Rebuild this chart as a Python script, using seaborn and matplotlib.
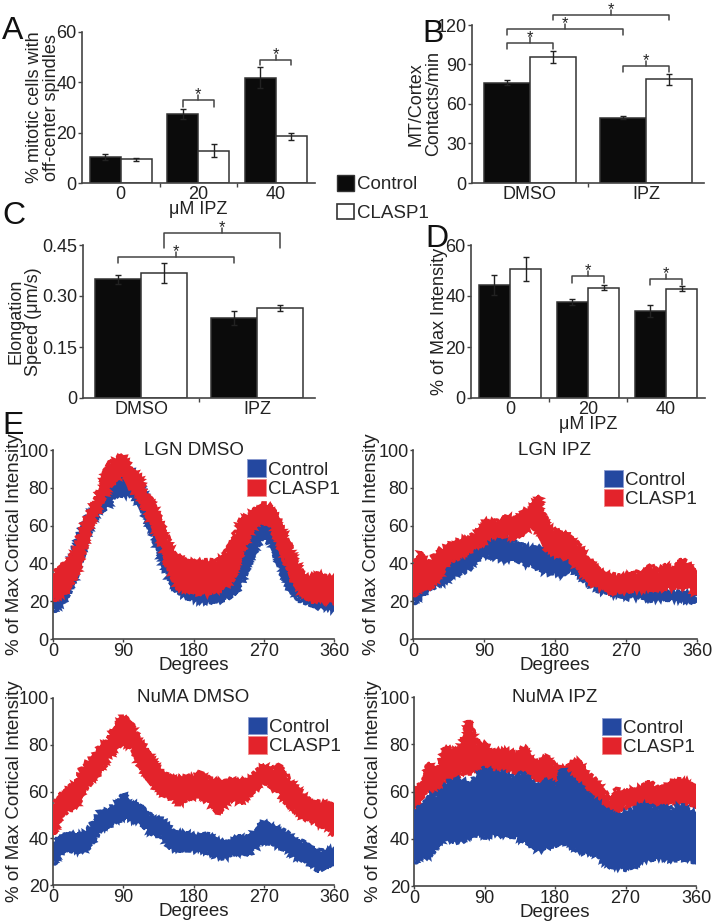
import matplotlib
matplotlib.use("Agg")
import matplotlib.pyplot as plt
from matplotlib.patches import Patch
import pandas as pd
import seaborn as sns

# ---------------- data: bar panels ----------------
groups = ["Control", "CLASP1"]

a_cats = ["0", "20", "40"]
a_ctrl = [10.5, 27.4, 41.8]
a_ctrl_err = [1.2, 1.9, 4.2]
a_clasp = [9.5, 12.9, 18.5]
a_clasp_err = [0.6, 2.5, 1.3]

b_cats = ["DMSO", "IPZ"]
b_ctrl = [76.1, 49.7]
b_ctrl_err = [2.0, 1.0]
b_clasp = [95.9, 78.7]
b_clasp_err = [4.5, 4.0]

c_cats = ["DMSO", "IPZ"]
c_ctrl = [0.349, 0.235]
c_ctrl_err = [0.014, 0.020]
c_clasp = [0.367, 0.265]
c_clasp_err = [0.030, 0.009]

d_cats = ["0", "20", "40"]
d_ctrl = [44.3, 37.6, 34.1]
d_ctrl_err = [4.0, 1.1, 2.2]
d_clasp = [50.6, 43.3, 42.9]
d_clasp_err = [4.7, 1.1, 0.9]

# significance brackets: (hue, cat) start, (hue, cat) end, bar height, foot height
a_sig = [((0, 1), (1, 1), 33.0, 30.0), ((0, 2), (1, 2), 49.0, 46.8)]
b_sig = [((0, 0), (1, 0), 106.6, 102.0), ((0, 0), (0, 1), 116.8, 112.4),
         ((1, 0), (1, 1), 127.7, 123.9), ((0, 1), (1, 1), 88.8, 84.5)]
c_sig = [((1, 0), (1, 1), 0.485, 0.441), ((0, 0), (0, 1), 0.415, 0.397)]
d_sig = [((0, 1), (1, 1), 47.8, 45.2), ((0, 2), (1, 2), 46.8, 44.4)]

# ---------------- data: cortical intensity profiles (every 10 degrees) ----------------
degrees = list(range(0, 361, 10))

lgn_dmso_ctrl_hi = [29, 33, 39, 51, 62, 69, 74, 82, 86, 89, 90, 83, 74, 63, 53, 41, 32, 28, 26,
                    25, 24, 24, 26, 30, 41, 51, 62, 65, 63, 53, 39, 30, 26, 23, 22, 21, 20]
lgn_dmso_ctrl_lo = [15, 18, 23, 35, 48, 62, 67, 70, 76, 76, 77, 72, 63, 53, 40, 30, 25, 22, 21,
                    20, 20, 20, 21, 23, 28, 39, 48, 55, 51, 39, 28, 23, 20, 18, 17, 16, 15]
lgn_dmso_clasp_hi = [34, 39, 41, 48, 62, 70, 79, 92, 95, 97, 90, 86, 77, 70, 60, 49, 44, 41, 41,
                     41, 41, 41, 44, 52, 62, 66, 69, 71, 70, 62, 53, 42, 35, 33, 34, 33, 32]
lgn_dmso_clasp_lo = [21, 23, 26, 34, 48, 62, 70, 79, 84, 89, 79, 76, 67, 58, 48, 35, 27, 26, 25,
                     24, 24, 26, 27, 32, 44, 54, 61, 63, 60, 49, 39, 28, 23, 20, 20, 20, 19]

lgn_ipz_ctrl_hi = [27, 30, 33, 35, 39, 40, 42, 46, 51, 56, 55, 53, 52, 51, 49, 48, 48, 46, 44,
                   44, 46, 42, 37, 34, 32, 30, 28, 27, 27, 26, 26, 26, 25, 25, 24, 24, 22]
lgn_ipz_ctrl_lo = [19, 23, 26, 28, 30, 34, 35, 37, 42, 44, 44, 42, 42, 42, 40, 39, 37, 35, 35,
                   34, 37, 34, 30, 27, 25, 24, 23, 22, 22, 22, 21, 21, 21, 21, 21, 20, 20]
lgn_ipz_clasp_hi = [39, 46, 37, 46, 48, 51, 52, 54, 56, 62, 62, 62, 65, 63, 67, 70, 75, 60, 57,
                    56, 54, 49, 44, 39, 35, 34, 33, 33, 35, 34, 39, 35, 39, 37, 42, 39, 34]
lgn_ipz_clasp_lo = [23, 28, 26, 30, 39, 42, 44, 46, 49, 51, 55, 54, 55, 53, 56, 60, 56, 47, 45,
                    44, 42, 37, 32, 28, 27, 25, 25, 25, 26, 26, 27, 26, 27, 27, 28, 27, 23]

numa_dmso_ctrl_hi = [38, 41, 42, 41, 42, 45, 51, 52, 54, 59, 55, 54, 51, 48, 48, 44, 42, 42, 41,
                     42, 41, 39, 38, 39, 41, 39, 44, 47, 45, 44, 42, 39, 38, 36, 34, 35, 35]
numa_dmso_ctrl_lo = [29, 34, 35, 34, 35, 38, 44, 45, 47, 49, 48, 47, 44, 41, 41, 36, 35, 35, 35,
                     35, 34, 32, 32, 33, 34, 33, 36, 39, 38, 36, 35, 32, 31, 29, 26, 28, 28]
numa_dmso_clasp_hi = [54, 59, 61, 64, 71, 74, 79, 82, 88, 92, 89, 82, 78, 72, 69, 66, 65, 66, 66,
                      68, 65, 64, 65, 65, 64, 65, 68, 71, 69, 71, 66, 62, 59, 56, 55, 55, 54]
numa_dmso_clasp_lo = [42, 49, 52, 54, 61, 65, 68, 74, 78, 81, 79, 72, 66, 62, 59, 58, 55, 56, 58,
                      58, 55, 51, 54, 57, 55, 58, 61, 64, 62, 59, 55, 52, 49, 48, 46, 45, 42]

numa_ipz_ctrl_hi = [52, 54, 58, 58, 62, 65, 65, 63, 66, 70, 68, 68, 66, 66, 68, 63, 62, 65, 61,
                    69, 65, 63, 59, 56, 54, 51, 49, 51, 52, 54, 54, 52, 54, 52, 54, 52, 51]
numa_ipz_ctrl_lo = [30, 33, 32, 37, 41, 39, 39, 41, 42, 41, 42, 42, 41, 41, 39, 37, 35, 37, 37,
                    39, 37, 35, 34, 34, 31, 28, 28, 27, 28, 31, 31, 32, 32, 31, 32, 31, 30]
numa_ipz_clasp_hi = [62, 63, 72, 68, 79, 77, 79, 90, 80, 80, 77, 77, 77, 76, 79, 73, 72, 75, 70,
                     70, 72, 73, 68, 65, 61, 56, 61, 59, 61, 62, 64, 61, 62, 64, 65, 64, 62]
numa_ipz_clasp_lo = [52, 58, 61, 59, 65, 65, 68, 68, 69, 68, 68, 69, 69, 68, 69, 66, 65, 63, 62,
                     62, 62, 61, 59, 56, 52, 49, 51, 54, 54, 54, 55, 54, 55, 56, 55, 55, 54]

BLUE = "#2448a0"
RED = "#e3232b"
INK = "#222222"
AXC = "#444444"

sns.set_theme(style="ticks")
plt.rcParams["font.family"] = ["Liberation Sans", "DejaVu Sans"]
plt.rcParams["axes.edgecolor"] = AXC
plt.rcParams["axes.linewidth"] = 1.2
plt.rcParams["xtick.color"] = AXC
plt.rcParams["ytick.color"] = AXC
plt.rcParams["xtick.labelcolor"] = INK
plt.rcParams["ytick.labelcolor"] = INK
plt.rcParams["axes.labelcolor"] = INK

W, H = 712, 921
fig = plt.figure(figsize=(W / 100, H / 100), dpi=100)


def rect(l, t, r, b):
    return [l / W, 1 - b / H, (r - l) / W, (b - t) / H]


def bar_panel(ax, cats, ctrl, ctrl_err, clasp, clasp_err, sig, ylim, yticks, yticklabels):
    df = pd.DataFrame({
        "cat": cats * 2,
        "group": ["Control"] * len(cats) + ["CLASP1"] * len(cats),
        "value": ctrl + clasp,
    })
    sns.barplot(data=df, x="cat", y="value", hue="group", order=cats, hue_order=groups,
                palette={"Control": "#0b0b0b", "CLASP1": "white"}, edgecolor="#333333",
                linewidth=1.1, errorbar=None, legend=False, ax=ax)
    vals = [ctrl, clasp]
    errs = [ctrl_err, clasp_err]
    bar_conts = list(ax.containers)
    centers = []
    for h, cont in enumerate(bar_conts):
        xs = [p.get_x() + p.get_width() / 2 for p in cont.patches]
        centers.append(xs)
        ax.errorbar(xs, vals[h], yerr=errs[h], fmt="none", ecolor=INK, elinewidth=1.0,
                    capsize=2.2, capthick=1.0, zorder=3)
    stub = 0.033 * (ylim[1] - ylim[0])
    for (h1, c1), (h2, c2), y, yf in sig:
        x1, x2 = centers[h1][c1], centers[h2][c2]
        xm = (x1 + x2) / 2
        ax.plot([x1, x1, x2, x2], [yf, y, y, yf], color=AXC, lw=1.1, clip_on=False)
        ax.plot([xm, xm], [y, y + stub], color=AXC, lw=1.1, clip_on=False)
        ax.annotate("*", xy=(xm, y + stub), xytext=(0, 0), textcoords="offset points",
                    ha="center", va="center", fontsize=12, color=INK, annotation_clip=False)
    ax.set_ylim(*ylim)
    ax.set_xlim(-0.5, len(cats) - 0.5)
    ax.set_yticks(yticks)
    ax.set_yticklabels(yticklabels)
    ax.set_xticks(range(len(cats)))
    ax.set_xticks([i + 0.5 for i in range(len(cats) - 1)], minor=True)
    ax.tick_params(axis="x", which="major", length=0, pad=2, labelsize=13)
    ax.tick_params(axis="x", which="minor", length=3, width=1)
    ax.tick_params(axis="y", length=3, width=1, pad=1, labelsize=13)
    ax.set_xlabel("")
    sns.despine(ax=ax)


axA = fig.add_axes(rect(82, 32, 314.5, 183))
bar_panel(axA, a_cats, a_ctrl, a_ctrl_err, a_clasp, a_clasp_err, a_sig,
          (0, 60), [0, 20, 40, 60], ["0", "20", "40", "60"])
axA.set_ylabel("% mitotic cells with\noff-center spindles", fontsize=13, linespacing=1.0)
axA.yaxis.set_label_coords(-0.094, 0.5)
axA.set_xlabel("μM IPZ", fontsize=13, labelpad=-1)

axB = fig.add_axes(rect(472, 25, 704, 183))
bar_panel(axB, b_cats, b_ctrl, b_ctrl_err, b_clasp, b_clasp_err, b_sig,
          (0, 120), [0, 30, 60, 90, 120], ["0", "30", "60", "90", "120"])
axB.set_ylabel("MT/Cortex\nContacts/min", fontsize=13, linespacing=1.0)
axB.yaxis.set_label_coords(-0.13, 0.5)

axC = fig.add_axes(rect(83, 245, 315, 398))
bar_panel(axC, c_cats, c_ctrl, c_ctrl_err, c_clasp, c_clasp_err, c_sig,
          (0, 0.45), [0, 0.15, 0.30, 0.45], ["0", "0.15", "0.30", "0.45"])
axC.set_ylabel("Elongation\nSpeed (μm/s)", fontsize=13, linespacing=1.0)
axC.yaxis.set_label_coords(-0.177, 0.5)

axD = fig.add_axes(rect(471, 245, 705, 398))
bar_panel(axD, d_cats, d_ctrl, d_ctrl_err, d_clasp, d_clasp_err, d_sig,
          (0, 60), [0, 20, 40, 60], ["0", "20", "40", "60"])
axD.set_ylabel("% of Max Intensity", fontsize=13)
axD.yaxis.set_label_coords(-0.1, 0.5)
axD.set_xlabel("μM IPZ", fontsize=13, labelpad=-1)

# shared legend for the bar panels
fig.legend(handles=[Patch(facecolor="#0b0b0b", edgecolor="#333333"),
                    Patch(facecolor="white", edgecolor="#333333", linewidth=1.2)],
           labels=groups, loc="upper left", bbox_to_anchor=(337 / W, 1 - 175 / H),
           frameon=False, fontsize=13.5, handlelength=0.9, handleheight=0.9,
           handletextpad=0.15, labelspacing=0.55, borderpad=0, borderaxespad=0)


# ---------------- E: intensity profiles ----------------
def profile_panel(box, title, ctrl_lo, ctrl_hi, clasp_lo, clasp_hi, ylim, yticks,
                  blue_on_top, leg_xy, label_x):
    ax = fig.add_axes(rect(*box))
    series = [("Control", BLUE, ctrl_lo, ctrl_hi), ("CLASP1", RED, clasp_lo, clasp_hi)]
    for name, color, lo, hi in series:
        z = 3 if (name == "Control") == blue_on_top else 2
        mid = [(a + b) / 2 for a, b in zip(lo, hi)]
        sns.lineplot(x=degrees, y=mid, color=color, lw=1.0, ax=ax, zorder=z)
        ax.fill_between(degrees, lo, hi, facecolor=color, edgecolor="none", zorder=z)
        # ragged outline so the band reads like the dense error bars of the original
        for edge in (lo, hi):
            ln, = ax.plot(degrees, edge, color=color, lw=2.2, zorder=z,
                          solid_joinstyle="miter")
            ln.set_sketch_params(scale=2.5, length=2.5, randomness=3.0)
    ax.set_xlim(0, 360)
    ax.set_ylim(*ylim)
    ax.set_xticks([0, 90, 180, 270, 360])
    ax.set_yticks(yticks)
    ax.tick_params(axis="both", length=2, width=1, pad=1, labelsize=13)
    ax.set_xlabel("Degrees", fontsize=13.5, labelpad=-2)
    ax.set_ylabel("% of Max Cortical Intensity", fontsize=13.5)
    ax.yaxis.set_label_coords(label_x, 0.5)
    ax.text(0.5, 1.0, title, transform=ax.transAxes, ha="center", va="center",
            fontsize=13.5, color=INK)
    ax.legend(handles=[Patch(facecolor=BLUE, edgecolor="#8a9ad0", linewidth=0.6),
                       Patch(facecolor=RED, edgecolor="#f08a8a", linewidth=0.6)],
              labels=groups, loc="upper left", bbox_to_anchor=leg_xy, frameon=False,
              fontsize=13.5, handlelength=1.0, handleheight=1.05, handletextpad=0.1,
              labelspacing=0.0, borderpad=0, borderaxespad=0)
    sns.despine(ax=ax)
    return ax


profile_panel((53, 450, 334, 639), "LGN DMSO", lgn_dmso_ctrl_lo, lgn_dmso_ctrl_hi,
              lgn_dmso_clasp_lo, lgn_dmso_clasp_hi, (0, 100), [0, 20, 40, 60, 80, 100],
              False, (0.69, 0.95), -0.108)
profile_panel((413, 450, 697, 639), "LGN IPZ", lgn_ipz_ctrl_lo, lgn_ipz_ctrl_hi,
              lgn_ipz_clasp_lo, lgn_ipz_clasp_hi, (0, 100), [0, 20, 40, 60, 80, 100],
              False, (0.673, 0.895), -0.115)
profile_panel((53, 698, 334, 885), "NuMA DMSO", numa_dmso_ctrl_lo, numa_dmso_ctrl_hi,
              numa_dmso_clasp_lo, numa_dmso_clasp_hi, (20, 100), [20, 40, 60, 80, 100],
              False, (0.694, 0.898), -0.108)
profile_panel((414, 697, 696, 886), "NuMA IPZ", numa_ipz_ctrl_lo, numa_ipz_ctrl_hi,
              numa_ipz_clasp_lo, numa_ipz_clasp_hi, (20, 100), [20, 40, 60, 80, 100],
              True, (0.667, 0.889), -0.115)

# panel letters
for letter, x, y in [("A", 2, 16), ("B", 422, 19), ("C", 2, 201), ("D", 425, 224), ("E", 2, 411)]:
    fig.text(x / W, 1 - y / H, letter, fontsize=23, ha="left", va="top", color="#111111")

fig.savefig("out.png", dpi=100)
